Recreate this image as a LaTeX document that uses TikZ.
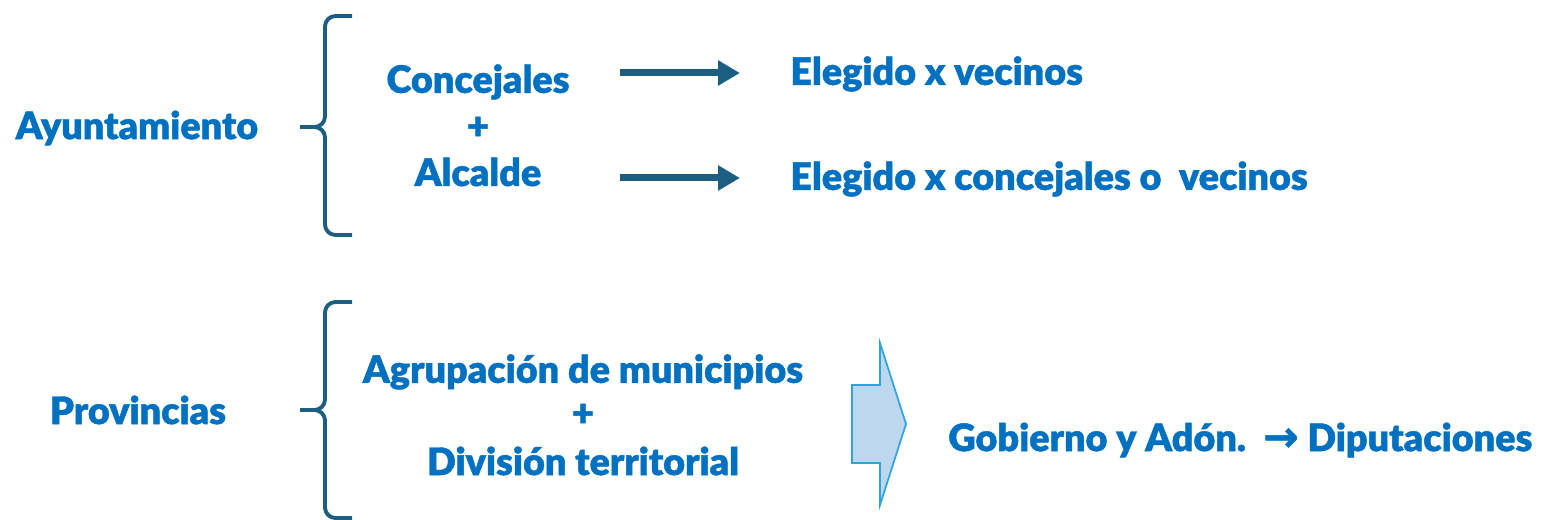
\documentclass[tikz,border=0pt]{standalone}
\usepackage{fontspec}
\setmainfont{Lato Black}[FakeBold=1.2]
\newfontfamily\arrowfont{DejaVu Sans Bold}[FakeBold=1.5]
\usetikzlibrary{arrows.meta}
\definecolor{txtblue}{HTML}{0070C0}
\definecolor{darkteal}{HTML}{1B5E82}
\definecolor{lightfill}{HTML}{BDD7EE}
\definecolor{edgeblue}{HTML}{2EA3DC}
\tikzset{
  lbl/.style={text=txtblue, font=\fontsize{21.5}{25}\selectfont, inner sep=0pt},
  lblleft/.style={lbl, anchor=west},
  curly/.style={draw=darkteal, line width=2.2pt, rounded corners=6pt},
  thickarrow/.style={draw=darkteal, line width=0.14cm, -{Triangle[length=0.44cm,width=0.48cm]}},
  bigarrow/.style={draw=edgeblue, fill=lightfill, line width=1pt}
}
\begin{document}
\begin{tikzpicture}[x=0.02cm,y=-0.02cm]
\useasboundingbox (0,0) rectangle (1542,520);
\node[lbl] (ayto) at (137,128){Ayuntamiento};
\node[lbl] (conc) at (478,82){Concejales};
\node[lbl] (plus1) at (478,128){+};
\node[lbl] (alc) at (478,172){Alcalde};
\node[lblleft] (elec1) at (790,74){Elegido x vecinos};
\node[lblleft] (elec2) at (790,179){Elegido x concejales o\ \ vecinos};
\coordinate (a1s) at (620,73);
\coordinate (a1e) at (740,73);
\coordinate (a2s) at (620,178);
\coordinate (a2e) at (740,178);
\draw[thickarrow](a1s) -- (a1e);
\draw[thickarrow](a2s) -- (a2e);
\draw[curly] (352,16) -- (325,16) -- (325,127) -- (300,127);
\draw[curly] (352,235) -- (325,235) -- (325,127) -- (300,127);
\node[lbl] (prov) at (138,410){Provincias};
\node[lbl] (agru) at (583,372){Agrupación de municipios};
\node[lbl] (plus2) at (583,415){+};
\node[lbl] (divi) at (583,461){División territorial};
\draw[curly] (352,302) -- (325,302) -- (325,410) -- (300,410);
\draw[curly] (352,518) -- (325,518) -- (325,410) -- (300,410);
\draw[bigarrow] (852,385) -- (880,385) -- (880,343) -- (906,424) -- (880,505) -- (880,463) -- (852,463) -- cycle;
\node[lblleft] (gob) at (948,440){Gobierno y Adón.\ \ {\arrowfont\fontsize{24}{25}\selectfont →} Diputaciones};
\end{tikzpicture}
\end{document}
